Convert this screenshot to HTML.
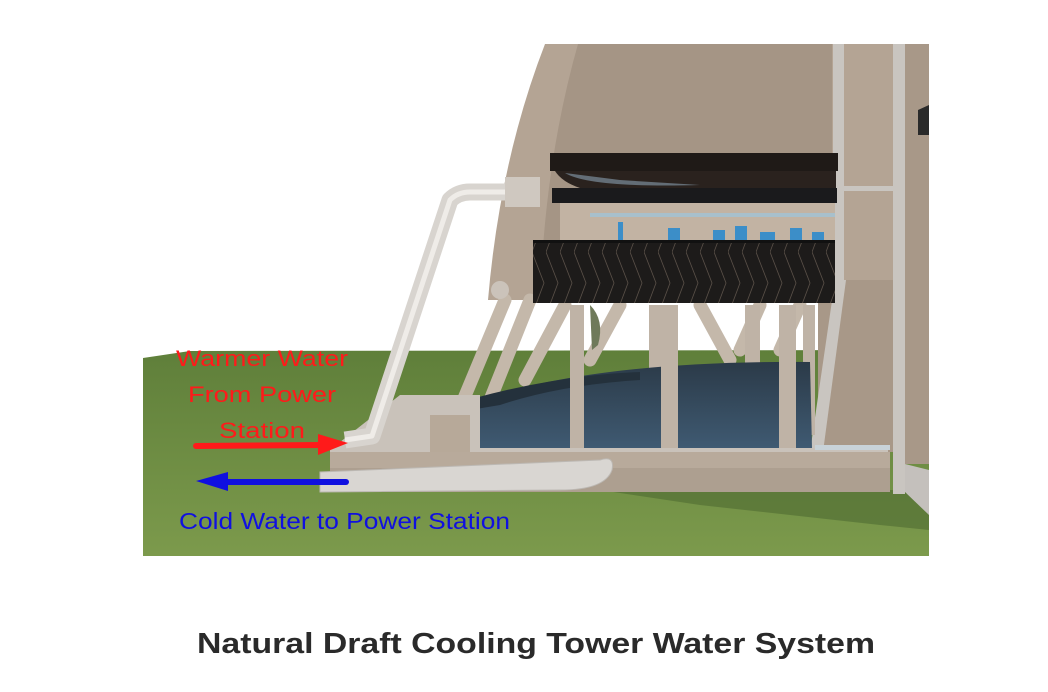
<!DOCTYPE html>
<html><head><meta charset="utf-8"><style>
html,body{margin:0;padding:0;background:#fff;}
svg{display:block}
</style></head><body>
<svg width="1048" height="692" viewBox="0 0 1048 692" xmlns="http://www.w3.org/2000/svg">
<defs>
<pattern id="chev" width="14" height="63" patternUnits="userSpaceOnUse">
<rect width="14" height="63" fill="#1d1b1a"/>
<path d="M0 0 L12 31 L0 63" fill="none" stroke="#5a5048" stroke-width="0.8"/>
</pattern>
<linearGradient id="grass" x1="0" y1="0" x2="0" y2="1">
<stop offset="0" stop-color="#5f7f3a"/><stop offset="1" stop-color="#7c9a4c"/>
</linearGradient>
<linearGradient id="pool" x1="0" y1="0" x2="0" y2="1">
<stop offset="0" stop-color="#2b3a48"/><stop offset="1" stop-color="#3f5a72"/>
</linearGradient>
</defs>
<!-- sky -->
<rect x="143" y="44" width="786" height="512" fill="#ffffff"/>
<!-- grass -->
<path d="M143 358 L190 351 L929 350 L929 556 L143 556 Z" fill="url(#grass)"/>
<path d="M600 490 L929 490 L929 530 L880 525 L700 505 Z" fill="#4f6a32" opacity="0.6"/>
<!-- tower shell -->
<path d="M545 44 L929 44 L929 450 L820 450 L835 300 L520 300 Q495 300 488 300 Q500 160 545 44 Z" fill="#b4a494"/>
<path d="M578 44 L832 44 L832 300 L540 300 Q545 160 578 44 Z" fill="#a59585"/>
<!-- columns right -->
<rect x="833" y="44" width="11" height="260" fill="#c9c5c0"/>
<rect x="893" y="44" width="12" height="450" fill="#c9c5c0"/>
<rect x="905" y="44" width="24" height="420" fill="#a89888"/>
<path d="M905 464 L929 470 L929 515 L905 492 Z" fill="#c4c0bc"/>
<path d="M918 110 L929 105 L929 135 L918 135 Z" fill="#2a2a2a"/>
<rect x="818" y="280" width="75" height="172" fill="#a89888"/>
<path d="M835 280 L846 280 L823 452 L810 452 Z" fill="#c9c5c0"/>
<rect x="843" y="186" width="50" height="5" fill="#c9c5c0"/>
<!-- legs / columns under pack -->
<g stroke="#c4b8aa" stroke-width="13" stroke-linecap="round">
<line x1="505" y1="300" x2="455" y2="420"/>
<line x1="530" y1="300" x2="490" y2="400"/>
<line x1="565" y1="305" x2="525" y2="380"/>
<line x1="620" y1="305" x2="590" y2="360"/>
<line x1="700" y1="305" x2="730" y2="360"/>
<line x1="760" y1="305" x2="740" y2="350"/>
<line x1="800" y1="305" x2="780" y2="350"/>
</g>
<g fill="#bfb3a6">
<rect x="570" y="305" width="14" height="140"/>
<rect x="649" y="305" width="14" height="120"/>
<rect x="661" y="305" width="17" height="148"/>
<rect x="745" y="305" width="15" height="110"/>
<rect x="779" y="305" width="17" height="145"/>
<rect x="803" y="305" width="12" height="130"/>
</g>
<path d="M590 305 Q605 320 598 345 L592 350 Z" fill="#6f7a5a"/>
<!-- pool -->
<path d="M478 400 Q600 360 810 362 L812 448 L480 448 Z" fill="url(#pool)"/>
<path d="M475 398 Q560 375 640 372 L640 380 Q560 385 500 405 L470 410 Z" fill="#24313c"/>
<rect x="570" y="350" width="14" height="100" fill="#bfb3a6"/>
<rect x="661" y="330" width="17" height="122" fill="#bfb3a6"/>
<rect x="779" y="330" width="17" height="120" fill="#bfb3a6"/>
<!-- base slab -->
<path d="M400 395 L480 395 L480 448 L888 448 L888 492 L330 492 L330 450 Z" fill="#c9c2ba"/>
<rect x="430" y="415" width="40" height="38" fill="#b7a999"/>
<rect x="330" y="452" width="560" height="18" fill="#b8aa9b"/>
<rect x="330" y="468" width="560" height="24" fill="#ad9f90"/>
<rect x="815" y="445" width="75" height="5" fill="#c8d2d8"/>
<!-- lower pipe -->
<path d="M320 472 L600 460 Q615 455 612 470 Q605 490 560 490 L320 492 Z" fill="#d9d6d2" stroke="#bcb8b3" stroke-width="1"/>
<!-- riser pipe -->
<path d="M345 440 L372 436 L450 200 Q458 192 470 192 L540 192" fill="none" stroke="#d8d4cf" stroke-width="17" stroke-linejoin="round"/>
<path d="M345 440 L372 436 L450 200 Q458 192 470 192 L540 192" fill="none" stroke="#efece8" stroke-width="5" stroke-linejoin="round"/>
<rect x="505" y="177" width="35" height="30" fill="#cfc8c0"/>
<circle cx="500" cy="290" r="9" fill="#cbc3ba"/>
<!-- eliminators -->
<rect x="550" y="153" width="288" height="18" fill="#1f1a17"/>
<path d="M555 171 L836 171 L836 188 L580 188 Q562 182 555 171 Z" fill="#2a221e"/>
<path d="M565 173 Q590 188 700 185 L620 180 Z" fill="#8aa0b0" opacity="0.6"/>
<rect x="552" y="188" width="285" height="15" fill="#1a1a1c"/>
<rect x="560" y="203" width="275" height="37" fill="#c2b3a3"/>
<rect x="590" y="213" width="245" height="4" fill="#a8c0cc"/>
<g fill="#3c8ec8">
<rect x="618" y="222" width="5" height="18"/><rect x="668" y="228" width="12" height="12"/>
<rect x="713" y="230" width="12" height="10"/><rect x="735" y="226" width="12" height="14"/>
<rect x="760" y="232" width="15" height="8"/><rect x="790" y="228" width="12" height="12"/><rect x="812" y="232" width="12" height="8"/>
</g>
<!-- fill pack -->
<rect x="533" y="240" width="302" height="63" fill="url(#chev)"/>
<rect x="533" y="240" width="302" height="3" fill="#111"/>
<!-- labels -->
<g font-family="'Liberation Sans', 'DejaVu Sans', sans-serif" font-size="22">
<text x="262" y="366" fill="#ff1a1a" text-anchor="middle" textLength="172" lengthAdjust="spacingAndGlyphs">Warmer Water</text>
<text x="262" y="402" fill="#ff1a1a" text-anchor="middle" textLength="148" lengthAdjust="spacingAndGlyphs">From Power</text>
<text x="262" y="438" fill="#ff1a1a" text-anchor="middle" textLength="86" lengthAdjust="spacingAndGlyphs">Station</text>
<text x="179" y="529" fill="#1010e0" font-size="23" textLength="331" lengthAdjust="spacingAndGlyphs">Cold Water to Power Station</text>
</g>
<!-- arrows -->
<line x1="196" y1="446" x2="322" y2="445" stroke="#ff1a1a" stroke-width="6" stroke-linecap="round"/>
<path d="M318 434 L348 443 L318 455 Z" fill="#ff1a1a"/>
<line x1="225" y1="482" x2="346" y2="482" stroke="#1010e0" stroke-width="6" stroke-linecap="round"/>
<path d="M228 472 L196 481 L228 491 Z" fill="#1010e0"/>
<!-- caption -->
<text x="536" y="653" text-anchor="middle" font-family="'Liberation Sans', 'DejaVu Sans', sans-serif" font-weight="bold" font-size="29" fill="#2a2a2a" textLength="678" lengthAdjust="spacingAndGlyphs">Natural Draft Cooling Tower Water System</text>
</svg>
</body></html>
